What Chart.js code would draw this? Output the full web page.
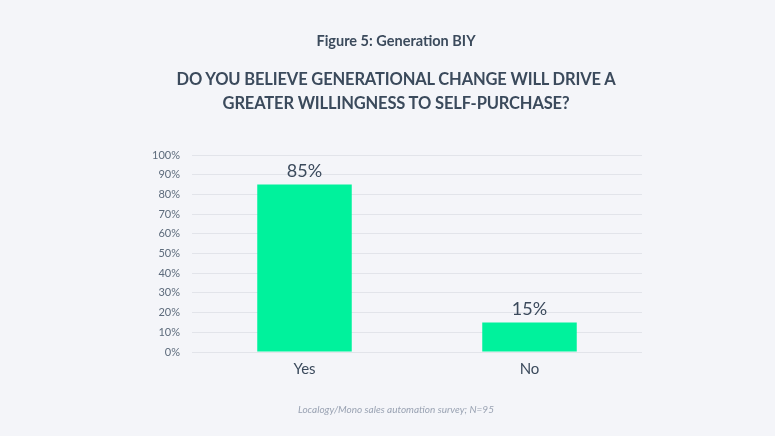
<!DOCTYPE html>
<html>
<head>
<meta charset="utf-8">
<script src="https://cdn.jsdelivr.net/npm/chart.js@4.4.1/dist/chart.umd.min.js"></script>
<style>
  html, body { margin:0; padding:0; background:#f4f5f9; }
  #wrap { position:relative; width:775px; height:436px; font-family:Lato, "Open Sans", sans-serif; color:#3b4a5c; }
  #chart { position:absolute; left:0; top:0; }
  .txt { position:absolute; left:0; width:792px; text-align:center; white-space:nowrap; }
  #fig { top:32px; font-size:14.5px; font-weight:bold; }
  #q { top:67px; font-size:16.5px; font-weight:bold; line-height:24px; letter-spacing:-0.15px; }
  #src { top:403px; font-size:10px; font-style:italic; color:#9aa3b3; }
</style>
</head>
<body>
<div id="wrap">
  <canvas id="chart" width="775" height="436"></canvas>
  <div class="txt" id="fig">Figure 5: Generation BIY</div>
  <div class="txt" id="q">DO YOU BELIEVE GENERATIONAL CHANGE WILL DRIVE A<br>GREATER WILLINGNESS TO SELF-PURCHASE?</div>
  <div class="txt" id="src">Localogy/Mono sales automation survey; N=95</div>
</div>
<script>
const categories = ["Yes", "No"];
const shares = [85, 15];
const yTicks = [0, 10, 20, 30, 40, 50, 60, 70, 80, 90, 100];

const BAR = "#00f29c";
const TEXT = "#3b4a5c";
const GRID = "#e2e4ea";

/* value labels above each bar */
const valueLabels = {
  id: "valueLabels",
  afterDatasetsDraw(chart){
    const ctx = chart.ctx;
    const meta = chart.getDatasetMeta(0);
    ctx.save();
    ctx.font = "18px Lato, 'Open Sans', sans-serif";
    ctx.fillStyle = TEXT;
    ctx.textAlign = "center";
    ctx.textBaseline = "bottom";
    meta.data.forEach((bar, i) => {
      ctx.fillText(shares[i] + "%", bar.x, bar.y - 4);
    });
    ctx.restore();
  }
};

const c = document.getElementById("chart");
new Chart(c, {
  type: "bar",
  data: {
    labels: categories,
    datasets: [{ data: shares, backgroundColor: BAR, borderWidth: 0, barPercentage: 0.84, categoryPercentage: 0.5 }]
  },
  options: {
    responsive: false, animation: false,
    layout: { padding: { left: 130, right: 133, top: 155, bottom: 54 } },
    plugins: { legend: { display: false }, tooltip: { enabled: false } },
    scales: {
      x: {
        grid: { display: false, drawTicks: false }, border: { display: false },
        ticks: { color: TEXT, font: { family: "Lato", size: 15 }, padding: 8 },
        afterFit: s => { s.height = 30; }
      },
      y: {
        min: 0, max: 100,
        afterBuildTicks: s => { s.ticks = yTicks.map(v => ({ value: v })); },
        grid: { color: GRID, lineWidth: 1, drawTicks: false }, border: { display: false },
        ticks: { color: "#5d6b7c", font: { family: "Lato", size: 11 }, padding: 12, callback: v => v + "%" },
        afterFit: s => { s.width = 62; }
      }
    }
  },
  plugins: [valueLabels]
});
</script>
</body>
</html>
